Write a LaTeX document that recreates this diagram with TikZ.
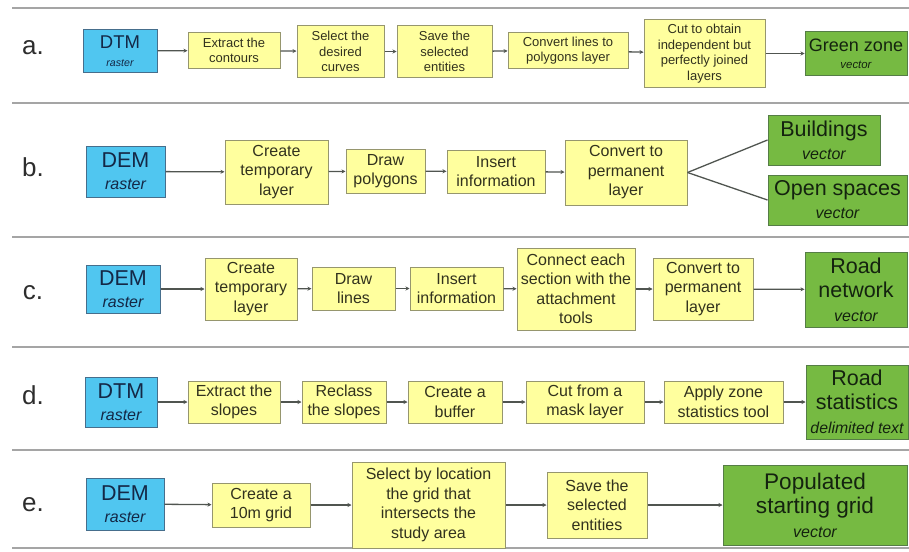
\documentclass[tikz,border=0pt]{standalone}
\usepackage{fontspec}
\setmainfont{Liberation Sans}
\usetikzlibrary{arrows.meta}
\usepackage{xcolor}

\definecolor{labelgray}{RGB}{45,45,45}
\definecolor{rulegray}{RGB}{165,165,165}
\definecolor{flowgray}{RGB}{80,85,80}
\definecolor{rasterfill}{RGB}{80,198,240}
\definecolor{rasterline}{RGB}{70,110,140}
\definecolor{rastertext}{RGB}{20,40,70}
\definecolor{stepfill}{RGB}{255,255,158}
\definecolor{stepline}{RGB}{150,150,110}
\definecolor{steptext}{RGB}{50,50,30}
\definecolor{vecfill}{RGB}{118,186,66}
\definecolor{vecline}{RGB}{85,125,70}
\definecolor{vectext}{RGB}{20,35,15}

\newcommand{\bigtxt}[1]{{\fontsize{21.5}{24}\selectfont #1}}

\tikzset{
  rowlabel/.style={text=labelgray, font=\fontsize{26}{26}\selectfont},
  rasterbox/.style={draw=rasterline, fill=rasterfill, line width=1pt, inner sep=0pt,
    align=center, text=rastertext, font=\fontsize{16}{22}\selectfont},
  stepbox/.style={draw=stepline, fill=stepfill, line width=1pt, inner sep=0pt,
    align=center, text=steptext, font=\fontsize{16}{19.5}\selectfont},
  smallstep/.style={stepbox, font=\fontsize{13}{15.5}\selectfont},
  vectorbox/.style={draw=vecline, fill=vecfill, line width=1pt, inner sep=0pt,
    align=center, text=vectext, font=\fontsize{16}{23}\selectfont},
  flow/.style={draw=flowgray, line width=1.3pt, -{Stealth[length=4pt,width=4pt]}},
  branch/.style={draw=flowgray, line width=1.3pt},
  rule/.style={draw=rulegray, line width=1.6pt}
}

\begin{document}
\begin{tikzpicture}[x=1pt, y=-1pt]
  \useasboundingbox (0,0) rectangle (909,551);

  % Separating rules between the rows
  \foreach \yy in {8,103,237,347,450,548}
    \draw[rule] (12,\yy) -- (909,\yy);

  % Row a
  \node[rowlabel] (la) at (33,48) {a.};
  \node[rasterbox, minimum width=74, minimum height=42, font=\fontsize{10.6}{18}\selectfont]
    (a0) at (120,51) {{\fontsize{18.5}{18}\selectfont DTM}\\{\itshape raster}};
  \node[smallstep, minimum width=92, minimum height=35] (a1) at (234,50.5) {Extract the\\contours};
  \node[smallstep, minimum width=87, minimum height=51] (a2) at (340.5,51.5) {Select the\\desired\\curves};
  \node[smallstep, minimum width=95, minimum height=51] (a3) at (444.5,51.5) {Save the\\selected\\entities};
  \node[smallstep, minimum width=120, minimum height=35] (a4) at (568,50.5) {Convert lines to\\polygons layer};
  \node[smallstep, minimum width=121, minimum height=67] (a5) at (704.5,53.5) {Cut to obtain\\independent but\\perfectly joined\\layers};
  \node[vectorbox, minimum width=102, minimum height=43, font=\fontsize{11.4}{17}\selectfont]
    (a6) at (856,53.5) {{\fontsize{18}{17}\selectfont Green zone}\\{\itshape vector}};
  \draw[flow] (a0) -- (a1);
  \draw[flow] (a1) -- (a2);
  \draw[flow] (a2) -- (a3);
  \draw[flow] (a3) -- (a4);
  \draw[flow] (a4) -- (a5);
  \draw[flow] (a5) -- (a6);

  % Row b
  \node[rowlabel] (lb) at (33,167) {b.};
  \node[rasterbox, minimum width=79, minimum height=51] (b0) at (125.5,171.5) {\bigtxt{DEM}\\{\itshape raster}};
  \node[stepbox, minimum width=103, minimum height=64] (b1) at (276.5,172) {Create\\temporary\\layer};
  \node[stepbox, minimum width=79, minimum height=44] (b2) at (385.5,171) {Draw\\polygons};
  \node[stepbox, minimum width=98, minimum height=43] (b3) at (496,171.5) {Insert\\information};
  \node[stepbox, minimum width=122, minimum height=65] (b4) at (626,172.5) {Convert to\\permanent\\layer};
  \node[vectorbox, minimum width=112, minimum height=50] (b5) at (824,140) {\bigtxt{Buildings}\\{\itshape vector}};
  \node[vectorbox, minimum width=139, minimum height=50] (b6) at (837.5,200) {\bigtxt{Open spaces}\\{\itshape vector}};
  \draw[flow] (b0) -- (b1);
  \draw[flow] (b1) -- (b2);
  \draw[flow] (b2) -- (b3);
  \draw[flow] (b3) -- (b4);
  \draw[branch] (b4.east) -- (b5.west);
  \draw[branch] (b4.east) -- (b6.west);

  % Row c
  \node[rowlabel] (lc) at (33,293) {c.};
  \node[rasterbox, minimum width=74, minimum height=48] (c0) at (123,289) {\bigtxt{DEM}\\{\itshape raster}};
  \node[stepbox, minimum width=92, minimum height=62] (c1) at (251,289) {Create\\temporary\\layer};
  \node[stepbox, minimum width=83, minimum height=43] (c2) at (353.5,288.5) {Draw\\lines};
  \node[stepbox, minimum width=93, minimum height=43] (c3) at (456.5,288.5) {Insert\\information};
  \node[stepbox, minimum width=118, minimum height=82] (c4) at (576,289) {Connect each\\section with the\\attachment\\tools};
  \node[stepbox, minimum width=100, minimum height=62] (c5) at (703,289) {Convert to\\permanent\\layer};
  \node[vectorbox, minimum width=102, minimum height=75, font=\fontsize{16}{24}\selectfont]
    (c6) at (856,289.5) {\bigtxt{Road}\\\bigtxt{network}\\{\itshape vector}};
  \draw[flow] (c0) -- (c1);
  \draw[flow] (c1) -- (c2);
  \draw[flow] (c2) -- (c3);
  \draw[flow] (c3) -- (c4);
  \draw[flow] (c4) -- (c5);
  \draw[flow] (c5) -- (c6);

  % Row d
  \node[rowlabel] (ld) at (33,395) {d.};
  \node[rasterbox, minimum width=72, minimum height=50] (d0) at (121,402) {\bigtxt{DTM}\\{\itshape raster}};
  \node[stepbox, minimum width=92, minimum height=42] (d1) at (234,402) {Extract the\\slopes};
  \node[stepbox, minimum width=84, minimum height=42] (d2) at (344,402) {Reclass\\the slopes};
  \node[stepbox, minimum width=94, minimum height=42] (d3) at (455,402) {Create a\\buffer};
  \node[stepbox, minimum width=118, minimum height=42] (d4) at (585,402) {Cut from a\\mask layer};
  \node[stepbox, minimum width=119, minimum height=42] (d5) at (723.5,402) {Apply zone\\statistics tool};
  \node[vectorbox, minimum width=102, minimum height=74, font=\fontsize{15.8}{24}\selectfont]
    (d6) at (857,402) {\bigtxt{Road}\\\bigtxt{statistics}\\{\itshape delimited text}};
  \draw[flow] (d0) -- (d1);
  \draw[flow] (d1) -- (d2);
  \draw[flow] (d2) -- (d3);
  \draw[flow] (d3) -- (d4);
  \draw[flow] (d4) -- (d5);
  \draw[flow] (d5) -- (d6);

  % Row e
  \node[rowlabel] (le) at (33,505) {e.};
  \node[rasterbox, minimum width=78, minimum height=52] (e0) at (125,504) {\bigtxt{DEM}\\{\itshape raster}};
  \node[stepbox, minimum width=98, minimum height=44] (e1) at (261,505) {Create a\\10m grid};
  \node[stepbox, minimum width=153, minimum height=86] (e2) at (428.5,505) {Select by location\\the grid that\\intersects the\\study area};
  \node[stepbox, minimum width=100, minimum height=66] (e3) at (597,505) {Save the\\selected\\entities};
  \node[vectorbox, minimum width=184, minimum height=80, font=\fontsize{16}{24}\selectfont]
    (e4) at (815,505) {{\fontsize{22.6}{24}\selectfont Populated}\\{\fontsize{22.6}{24}\selectfont starting grid}\\{\itshape vector}};
  \draw[flow] (e0) -- (e1);
  \draw[flow] (e1) -- (e2);
  \draw[flow] (e2) -- (e3);
  \draw[flow] (e3) -- (e4);
\end{tikzpicture}
\end{document}
